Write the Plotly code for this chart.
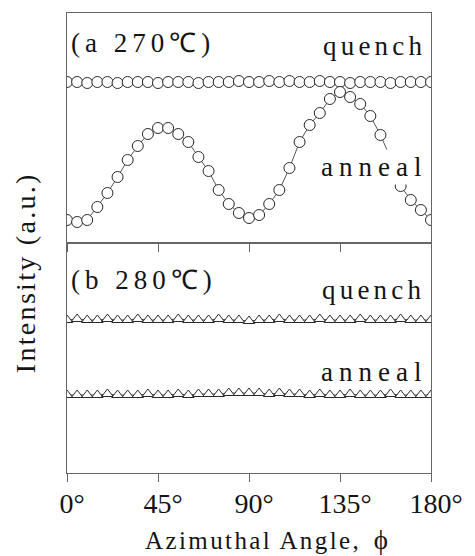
import plotly.graph_objects as go
from plotly.subplots import make_subplots

# Azimuthal angle (degrees)
angle = [0, 5, 10, 15, 20, 25, 30, 35, 40, 45, 50, 55, 60, 65, 70, 75, 80, 85, 90,
         95, 100, 105, 110, 115, 120, 125, 130, 135, 140, 145, 150, 155, 160, 165, 170, 175, 180]

# (a) 270 C
a_quench = [161, 161, 160, 161, 161, 160, 161, 161, 161, 160, 161, 161, 161, 160, 161, 161, 161, 162, 161,
            161, 162, 161, 162, 161, 161, 162, 161, 161, 160, 161, 161, 161, 160, 161, 161, 161, 161]
a_anneal = [23, 21, 23, 36, 50, 66, 83, 97, 109, 115, 115, 109, 101, 86, 72, 53, 39, 30, 25,
            28, 39, 53, 75, 101, 118, 130, 144, 151, 146, 139, 127, 108, 85, 57, 43, 33, 23]

# (b) 280 C
b_quench = [153, 154, 153, 153, 154, 153, 153, 154, 153, 153, 153, 154, 153, 153, 153, 154, 153, 153, 152,
            153, 153, 154, 153, 153, 153, 154, 153, 153, 153, 154, 153, 153, 153, 154, 153, 153, 153]
b_anneal = [78, 78, 78, 78, 79, 78, 78, 78, 79, 78, 78, 79, 78, 79, 79, 79, 80, 80, 80,
            80, 79, 80, 79, 79, 78, 79, 78, 78, 79, 78, 78, 78, 79, 78, 78, 78, 78]

tick_vals = [0, 45, 90, 135, 180]
tick_text = ["0°", "45°", "90°", "135°", "180°"]

INK = "#141414"
MARK = "#2a2a2a"
LINE = "#666666"
SERIF = "Liberation Serif, Times New Roman, serif"

fig = make_subplots(rows=2, cols=1, shared_xaxes=False, vertical_spacing=0)

circle = dict(symbol="circle", size=11, color="white", line=dict(width=1, color=MARK))
tri = dict(symbol="triangle-up", size=10, color="white", line=dict(width=1, color=MARK))

fig.add_trace(go.Scatter(x=angle, y=a_quench, mode="lines+markers", marker=circle,
                         line=dict(color=MARK, width=0.8), name="(a) quench"), row=1, col=1)
fig.add_trace(go.Scatter(x=angle, y=a_anneal, mode="lines+markers", marker=circle,
                         line=dict(color=MARK, width=0.8), name="(a) anneal"), row=1, col=1)
fig.add_trace(go.Scatter(x=angle, y=b_quench, mode="lines+markers", marker=tri,
                         line=dict(color=MARK, width=0.8), name="(b) quench"), row=2, col=1)
fig.add_trace(go.Scatter(x=angle, y=b_anneal, mode="lines+markers", marker=tri,
                         line=dict(color=MARK, width=0.8), name="(b) anneal"), row=2, col=1)


def sp(t, ls):
    return f'<span style="letter-spacing:{ls}px">{t}</span>'


lab_font = dict(family=SERIF, size=27, color=INK)
ann = [
    dict(x=0, y=200, xref="x", yref="y", text=sp("(a 270℃)", 5), xanchor="left", xshift=2),
    dict(x=180, y=197, xref="x", yref="y", text=sp("quench", 4.2), xanchor="right", xshift=-3),
    dict(x=180, y=76, xref="x", yref="y", text=sp("anneal", 6), xanchor="right", xshift=-1,
         bgcolor="white", borderpad=2),
    dict(x=0, y=193, xref="x2", yref="y2", text=sp("(b 280℃)", 5), xanchor="left", xshift=2),
    dict(x=180, y=183, xref="x2", yref="y2", text=sp("quench", 4.2), xanchor="right", xshift=-4),
    dict(x=180, y=101, xref="x2", yref="y2", text=sp("anneal", 6), xanchor="right", xshift=-2),
]
for a in ann:
    a.update(showarrow=False, yanchor="middle", font=lab_font)
    fig.add_annotation(**a)

# y-axis title
fig.add_annotation(x=-0.112, y=0.435, xref="paper", yref="paper", text=sp("Intensity (a.u.)", 2.3),
                   textangle=-90, showarrow=False, font=dict(family=SERIF, size=28, color=INK),
                   xanchor="center", yanchor="middle")
# x-axis title
fig.add_annotation(x=0.547, y=-0.146, xref="paper", yref="paper",
                   text=sp("Azimuthal Angle,", 2.4) + '  <span style="font-size:27px">ϕ</span>',
                   showarrow=False, font=dict(family=SERIF, size=25, color=INK),
                   xanchor="center", yanchor="middle")

axis_common = dict(range=[0, 180], tickvals=tick_vals, ticktext=tick_text, showgrid=False,
                   zeroline=False, showline=True, linecolor=LINE, linewidth=1, mirror=True,
                   ticks="outside", tickcolor=LINE, ticklen=8)
fig.update_xaxes(**axis_common, showticklabels=False, row=1, col=1)
fig.update_xaxes(**axis_common, showticklabels=True,
                 tickfont=dict(family=SERIF, size=28, color=INK), ticklabelshift=5,
                 ticklabelstandoff=-3, row=2, col=1)
yaxis_common = dict(range=[0, 230], showgrid=False, zeroline=False, showticklabels=False,
                    showline=True, linecolor=LINE, linewidth=1, mirror=True, ticks="")
fig.update_yaxes(**yaxis_common, row=1, col=1)
fig.update_yaxes(**yaxis_common, row=2, col=1)

fig.update_layout(width=475, height=556, margin=dict(l=67, r=33, t=13, b=83),
                  paper_bgcolor="white", plot_bgcolor="white", showlegend=False)

fig.write_html("out.html", config={"displayModeBar": False},
               post_script="document.body.style.margin='0';document.body.style.overflow='hidden';")
